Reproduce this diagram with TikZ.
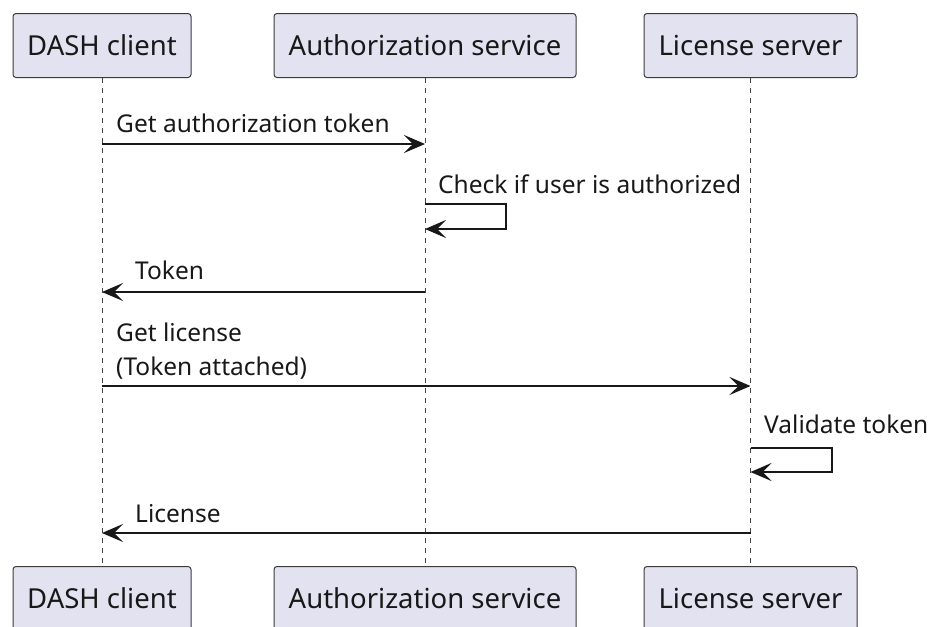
\documentclass[tikz,border=0pt]{standalone}
\usepackage{fontspec}
\setmainfont{Noto Sans}
\usetikzlibrary{arrows.meta}
\definecolor{boxfill}{HTML}{E2E2F0}
\definecolor{ink}{HTML}{181818}
\begin{document}
\begin{tikzpicture}[x=1pt,y=1pt,
  partbox/.style={draw=ink!85,fill=boxfill,rounded corners=3pt,line width=1pt,
    minimum height=64pt,inner sep=0pt,text=ink,font=\fontsize{27.5}{32}\selectfont},
  lifeline/.style={draw=ink!80,dash pattern=on 5pt off 5pt,line width=0.9pt},
  msg/.style={draw=ink,line width=1.5pt,-{Stealth[length=21pt,width=18pt,inset=9pt]}},
  msglabel/.style={anchor=base west,inner sep=0pt,text=ink,font=\fontsize{24.5}{28}\selectfont}]
\useasboundingbox (0,0) rectangle (930,-627);
% participants top
\node[partbox,minimum width=178pt,anchor=north] (pa) at (102,-13) {DASH client};
\node[partbox,minimum width=302pt,anchor=north] (pb) at (425,-13) {Authorization service};
\node[partbox,minimum width=213pt,anchor=north] (pc) at (750.5,-13) {License server};
% participants bottom
\node[partbox,minimum width=178pt,anchor=north] (qa) at (102,-566) {DASH client};
\node[partbox,minimum width=302pt,anchor=north] (qb) at (425,-566) {Authorization service};
\node[partbox,minimum width=213pt,anchor=north] (qc) at (750.5,-566) {License server};
% lifelines
\draw[lifeline] (pa.south) -- (qa.north);
\draw[lifeline] (pb.south) -- (qb.north);
\draw[lifeline] (pc.south) -- (qc.north);
% message anchor points
\coordinate (a1) at (102,-144); \coordinate (b1) at (425,-144);
\coordinate (b2s) at (425,-204); \coordinate (b2r) at (506,-204);
\coordinate (b2q) at (506,-229); \coordinate (b2e) at (425,-229);
\coordinate (b3) at (425,-292); \coordinate (a3) at (102,-292);
\coordinate (a4) at (102,-386); \coordinate (c4) at (750.5,-386);
\coordinate (c5s) at (750.5,-448); \coordinate (c5r) at (832,-448);
\coordinate (c5q) at (832,-472); \coordinate (c5e) at (750.5,-472);
\coordinate (c6) at (750.5,-533); \coordinate (a6) at (102,-533);
% messages
\draw[msg] (a1) -- (b1);
\node[msglabel] (l1) at (116,-132) {Get authorization token};
\draw[msg] (b2s) -- (b2r) -- (b2q) -- (b2e);
\node[msglabel] (l2) at (438,-193) {Check if user is authorized};
\draw[msg] (b3) -- (a3);
\node[msglabel] (l3) at (135,-279) {Token};
\draw[msg] (a4) -- (c4);
\node[msglabel] (l4a) at (116,-341) {Get license};
\node[msglabel] (l4b) at (116,-375) {(Token attached)};
\draw[msg] (c5s) -- (c5r) -- (c5q) -- (c5e);
\node[msglabel] (l5) at (764,-433) {Validate token};
\draw[msg] (c6) -- (a6);
\node[msglabel] (l6) at (135,-522) {License};
\end{tikzpicture}
\end{document}
